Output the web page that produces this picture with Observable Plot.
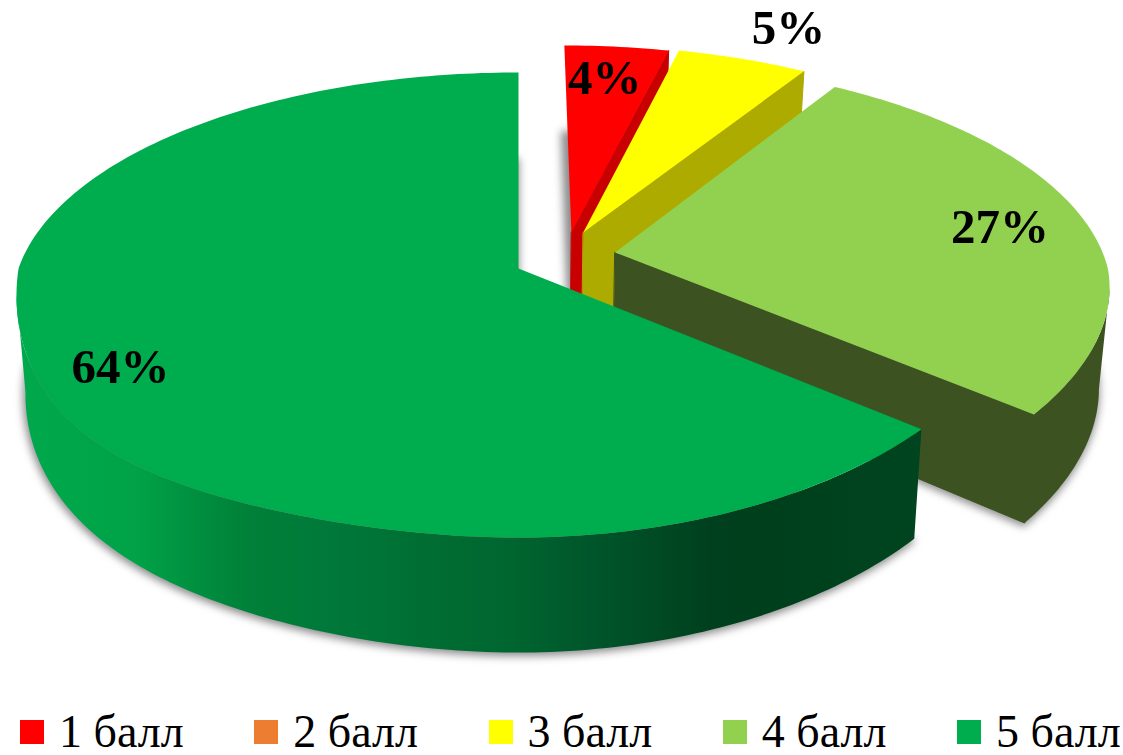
<!DOCTYPE html>
<html><head><meta charset="utf-8">
<script src="https://cdn.jsdelivr.net/npm/d3@7"></script>
<script src="https://cdn.jsdelivr.net/npm/@observablehq/plot@0.6"></script>
<style>
html,body{margin:0;padding:0;background:#fff;width:1123px;height:755px;overflow:hidden}
#chart svg{display:block}
#legend{display:flex;margin-top:9px;height:46px;padding-left:20px;font-family:"Liberation Serif",serif;font-size:46px;color:#000;line-height:46px}
#legend .item{flex:none;width:234.25px;display:flex;align-items:flex-start;white-space:nowrap}
#legend .sw{width:24px;height:24px;margin-top:11px;margin-right:15px;flex:none}
</style></head>
<body>
<div id="chart"></div>
<div id="legend"></div>
<script>
// Data
const categories = ["1 балл","2 балл","3 балл","4 балл","5 балл"];
const values = [4,0,5,27,64];
const labels = ["4%",null,"5%","27%","64%"];
const topColors = ["#ff0000","#ed7d31","#ffff00","#92d050","#00ad4e"];
const sideColors = ["#c80000","#b05d24","#aeab00","#3d5221",null];
// Explosion of each slice, in disc units; where its label sits; perspective of its front half
const explodeU = [0.11,0,0.1347,0.198,0];
const explodeV = [-0.163,0,-0.163,-0.0716,0];
const labelRadius = [0.81,0,1.222,0.815,0.85];
const labelTurn = [-0.7,0,1.9,1,0.2];
const frontX = [0.09,0.09,0.09,0.13,0.09];
const frontY = [0.157,0.157,0.157,0.214,0.157];
// Shading of the front wall of the last slice, along x
const wallX = [20,135,192,250,335,422,508,594,709,766,920];
const wallC = ["#00a84c","#00a347","#009040","#008038","#00783a","#006e32","#006630","#00552a","#00401e","#003f1c","#00451f"];

const W = 1123, H = 700;
const cx = 518, cy = 268, aLeft = 500, aRight = 493, b = 226.8, p = 0.157, bulge = 75;

function project(i, u, v, level) {
  const dy = 1 - (v > 0 ? frontY[i] : p) * v, dx = 1 - (v > 0 ? frontX[i] : p) * v;
  const s = level ? 0.982 : 1;
  const a = u < 0 ? aLeft : aRight;
  const extra = (u < 0 && v > 0) ? (level ? 0.6 : 1) * bulge * Math.pow(-u, 3) * v : 0;
  return {
    x: cx + s * a * u / dx,
    y: cy + b * v / dy + extra + (level ? 100 + 15 * Math.min(1, Math.max(-1, v)) : 0)
  };
}
const angle = d3.scaleLinear().domain([0, d3.sum(values)]).range([0, 2 * Math.PI]);
const P = (i, t, r, level) => project(i, explodeU[i] + r * Math.sin(t), explodeV[i] - r * Math.cos(t), level);

const tops = [], shadow = [], walls = [], cuts = [], labelRows = [];
let cum = 0;
const stepDeg = Math.PI / 180;
values.forEach((val, i) => {
  const t0 = angle(cum), t1 = angle(cum + val);
  cum += val;
  if (val === 0) return;
  const steps = Math.ceil((t1 - t0) / stepDeg);
  const arc = d3.range(steps + 1).map(k => t0 + (t1 - t0) * k / steps);
  const key = categories[i];
  const poly = level => [P(i, 0, 0, level), ...arc.map(t => P(i, t, 1, level))];
  poly(false).forEach(o => tops.push({...o, key, i, fill: topColors[i]}));
  poly(true).forEach(o => shadow.push({...o, key}));
  // the outer wall is only seen from the outline's widest point round to the front
  let front = [];
  const xs = arc.map(t => P(i, t, 1, false).x);
  if (i === 3) front = arc.slice(d3.maxIndex(xs));
  if (i === 4) front = arc.slice(0, d3.minIndex(xs) + 1);
  const wallFill = i === 4 ? "url(#wallShade)" : sideColors[i];
  [...front.map(t => P(i, t, 1, false)), ...front.slice().reverse().map(t => P(i, t, 1, true))]
    .forEach(o => walls.push({...o, key: key + "-wall", i, fill: wallFill}));
  if (i < 4) {
    [P(i,0,0,false), P(i,t1,1,false), P(i,t1,1,true), P(i,0,0,true)]
      .forEach(o => cuts.push({...o, key: key + "-cut", i, fill: sideColors[i]}));
  }
  if (labels[i]) {
    const q = P(i, (t0 + t1) / 2 + labelTurn[i] * stepDeg, labelRadius[i], false);
    labelRows.push({...q, text: labels[i]});
  }
});

const gradient = () => {
  const defs = d3.create("svg:defs");
  const g = defs.append("linearGradient").attr("id","wallShade").attr("gradientUnits","userSpaceOnUse")
    .attr("x1",wallX[0]).attr("x2",wallX[wallX.length-1]).attr("y1",0).attr("y2",0);
  const span = wallX[wallX.length-1] - wallX[0];
  wallX.forEach((x,k) => g.append("stop").attr("offset",(x-wallX[0])/span).attr("stop-color",wallC[k]));
  return defs.node();
};
const wallOf = i => Plot.line(walls.filter(d => d.i === i), {x:"x", y:"y", z:"key", fill:"fill", curve:"linear-closed"});
const cutOf = i => Plot.line(cuts.filter(d => d.i === i), {x:"x", y:"y", z:"key", fill:"fill", stroke:"fill", strokeWidth:1, curve:"linear-closed"});
const topOf = i => Plot.line(tops.filter(d => d.i === i), {x:"x", y:"y", z:"key", fill:"fill", curve:"linear-closed"});

const chart = Plot.plot({
  width: W, height: H, margin: 0,
  x: {domain:[0,W], range:[0,W], axis:null},
  y: {domain:[0,H], range:[0,H], axis:null},
  color: {type:"identity"},
  marks: [
    gradient,
    Plot.line(shadow, {x:d=>d.x-1, y:d=>d.y+2, z:"key", fill:"#8a8a8a", stroke:"#8a8a8a", strokeWidth:3, curve:"linear-closed", imageFilter:"blur(4px)"}),
    ...[0,2,3].flatMap(i => [wallOf(i), cutOf(i), topOf(i)]),
    wallOf(4), topOf(4),
    Plot.text(labelRows, {x:"x", y:"y", text:"text", fontFamily:"Liberation Serif", fontWeight:"bold", fontSize:49, fill:"#000", stroke:"none"})
  ]
});
document.getElementById("chart").append(chart);

const legend = d3.select("#legend");
categories.forEach((c, i) => {
  const it = legend.append("div").attr("class","item");
  it.append("div").attr("class","sw").style("background", topColors[i]);
  it.append("div").attr("class","tx").text(c);
});
</script>
</body></html>
